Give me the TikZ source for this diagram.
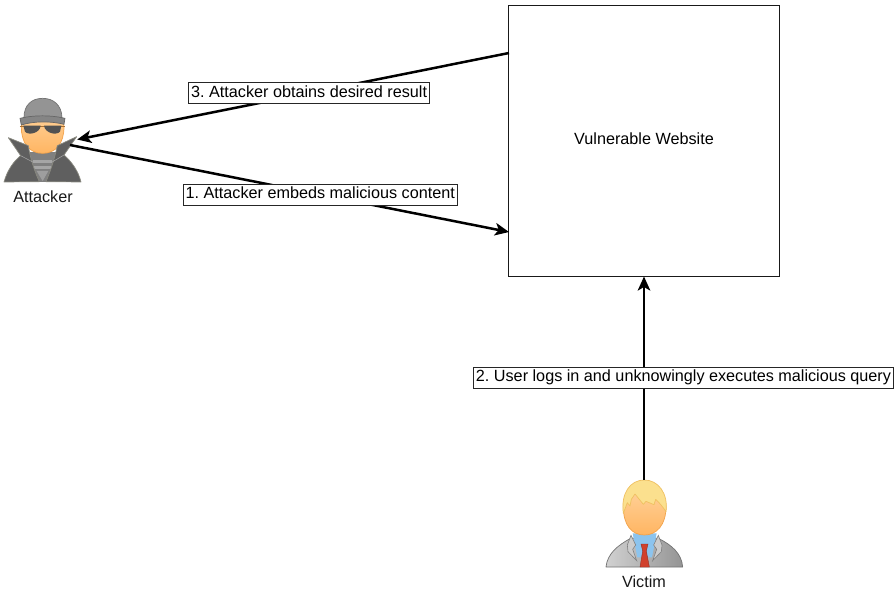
\documentclass[tikz,border=0pt]{standalone}
\usepackage{fontspec}
\setmainfont{Liberation Sans}
\usetikzlibrary{arrows.meta,shadings}
\definecolor{skin}{HTML}{FFB562}
\definecolor{skinlight}{HTML}{FFD7A4}
\definecolor{skinline}{HTML}{F2A24A}
\definecolor{coat}{HTML}{5F5F5F}
\definecolor{coatline}{HTML}{8A8A80}
\definecolor{shirt}{HTML}{8CC4EE}
\definecolor{hair}{HTML}{FBE08E}
\definecolor{hairline}{HTML}{EFC060}
\definecolor{tie}{HTML}{D0402C}
\tikzset{
  x=1pt,y=-1pt,
  labeltext/.style={font=\fontsize{16.2}{19}\selectfont\frenchspacing},
  link/.style={line width=2.5pt,draw=black,-{Stealth[length=14pt,width=12.5pt,inset=3.5pt]}},
  caption/.style={labeltext,draw=black!85,line width=.9pt,fill=white,inner xsep=2.5pt,inner ysep=2.5pt,text height=12pt,text depth=4pt},
  plain/.style={labeltext,inner sep=0pt,text=black!90},
  figure/.style={inner sep=0pt,draw=none},
  outline/.style={line width=.7pt,line join=round},
  zoomed/.style={x=.3333pt,y=-.3333pt}
}
\begin{document}
\begin{tikzpicture}
\useasboundingbox (0,0) rectangle (896,592);
\fill[white] (0,0) rectangle (896,592);

% Website box
\node[labeltext,draw=black!90,line width=1pt,minimum width=271pt,minimum height=271pt,inner sep=0pt] (site) at (644,140.5) {\raisebox{3pt}{Vulnerable Website}};

% Attacker figure
\begin{scope}[shift={(0,85)},zoomed]
  % shirt under the coat
  \fill[black!50] (80,200) rectangle (175,290);
  \foreach \yy in {226,244}{\fill[black!35] (100,\yy) rectangle (155,\yy+8);}
  \fill[black!38] (110,258) -- (145,258) -- (128,288) -- cycle;
  % head
  \path[outline,draw=skinline,top color=skinlight,bottom color=skin] (64,125) .. controls (64,175) and (88,205) .. (128,205) .. controls (168,205) and (192,175) .. (192,125) .. controls (192,60) and (64,60) .. (64,125) -- cycle;
  % coat, one side at a time
  \path[outline,draw=coatline,fill=coat] (12,291) .. controls (22,255) and (42,228) .. (62,212) -- (25,158) -- (85,182) .. controls (90,215) and (100,250) .. (118,290) -- cycle;
  \path[outline,draw=coatline,fill=coat] (243,291) .. controls (235,258) and (215,230) .. (192,210) -- (230,155) -- (172,182) .. controls (165,215) and (155,250) .. (138,290) -- cycle;
  \draw[black!35,line width=.5pt] (62,212) -- (100,232) (192,210) -- (155,232);
  % hat
  \path[outline,draw=black!55,fill=black!42] (72,98) .. controls (72,60) and (95,40) .. (128,40) .. controls (160,40) and (185,60) .. (186,98) -- cycle;
  \path[outline,draw=black!60,fill=black!48] (60,100) .. controls (100,90) and (155,90) .. (195,100) -- (192,118) .. controls (155,108) and (100,108) .. (64,120) -- cycle;
  % sunglasses
  \draw[skinline!70!black,line width=.8pt] (60,124) -- (195,124);
  \path[fill=black!68] (70,122) -- (122,122) .. controls (120,145) and (85,152) .. (75,140) -- cycle;
  \path[fill=black!68] (184,122) -- (132,122) .. controls (135,145) and (170,152) .. (180,140) -- cycle;
\end{scope}
\node[figure,minimum width=72pt,minimum height=85pt] (attacker) at (41,139.5) {};
\node[plain] (attackerlabel) at (43,196.5) {Attacker};

% Victim figure
\begin{scope}[shift={(590,470)},zoomed]
  % suit
  \path[outline,draw=black!55,left color=black!18,right color=black!42] (48,291) .. controls (52,250) and (85,225) .. (122,205) -- (205,205) .. controls (245,225) and (275,250) .. (278,291) -- cycle;
  % shirt and tie
  \path[fill=shirt] (128,190) -- (200,190) -- (186,262) -- (142,262) -- cycle;
  \path[draw=black!50,line width=.6pt,fill=black!20] (123,196) -- (137,225) -- (128,238) -- (140,272) -- (114,245) -- (112,225) -- cycle;
  \path[draw=black!50,line width=.6pt,fill=black!20] (205,196) -- (191,225) -- (200,238) -- (188,272) -- (214,245) -- (216,225) -- cycle;
  \path[fill=tie,draw=tie!70!black,line width=.4pt] (153,222) -- (174,222) -- (169,243) -- (178,291) -- (150,291) -- (158,243) -- cycle;
  % head
  \path[outline,draw=skinline,top color=skinlight,bottom color=skin] (100,110) .. controls (100,165) and (125,195) .. (163,195) .. controls (200,195) and (228,165) .. (228,110) .. controls (228,30) and (100,30) .. (100,110) -- cycle;
  % hair
  \path[line width=.7pt,line join=round,draw=hairline,fill=hair] (100,130) .. controls (92,70) and (120,30) .. (163,30) .. controls (205,30) and (235,70) .. (228,125)
    .. controls (218,110) and (208,98) .. (197,88) -- (192,104) -- (168,94) -- (160,103) -- (135,72) -- (124,88) -- (120,108) -- (112,98) -- cycle;
\end{scope}
\node[figure,minimum width=77pt,minimum height=88pt] (victim) at (644,524) {};
\node[plain] (victimlabel) at (644,582) {Victim};

% Connectors
\coordinate (attackerout) at (70,145);
\coordinate (sitein) at (509,232);
\coordinate (siteout) at (509,53);
\draw[link] (attackerout) -- (sitein) node[caption,pos=.57] (one) {1. Attacker embeds malicious content};
\draw[link] (siteout) -- (attacker.east) node[caption,pos=.463] (three) {3. Attacker obtains desired result};
\draw[link] (victim.north) -- (site.south);
\node[caption] (two) at (683.5,377.5) {2. User logs in and unknowingly executes malicious query};
\end{tikzpicture}
\end{document}
